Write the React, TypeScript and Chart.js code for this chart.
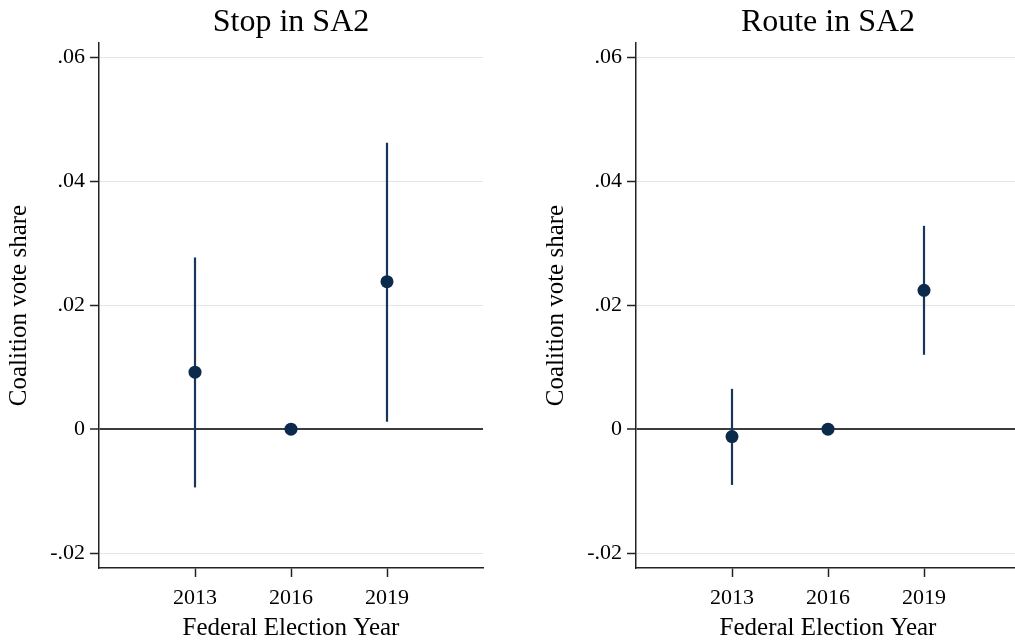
import React, { useEffect, useRef } from 'react';
import { Chart, registerables } from 'chart.js';

Chart.register(...registerables);

// ---- data ----
const years = [2013, 2016, 2019];
const stopEstimate = [0.0092, 0, 0.0238];
const stopLower = [-0.0094, 0, 0.0012];
const stopUpper = [0.0277, 0, 0.0462];
const routeEstimate = [-0.0012, 0, 0.0224];
const routeLower = [-0.009, 0, 0.012];
const routeUpper = [0.0065, 0, 0.0328];

const yTickValues = [-0.02, 0, 0.02, 0.04, 0.06];
const yTickLabels = ['-.02', '0', '.02', '.04', '.06'];
const xTickValues = [2013, 2016, 2019];
const xTickLabels = ['2013', '2016', '2019'];
const panelTitles = ['Stop in SA2', 'Route in SA2'];
const xAxisTitle = 'Federal Election Year';
const yAxisTitle = 'Coalition vote share';

const FONT = '"Liberation Serif", "Times New Roman", serif';
const NAVY = '#0b2a4c';
const NAVY_LINE = '#17365a';

const panelTitlePlugin = {
  id: 'panelTitle',
  afterDraw(chart: any, _args: any, opts: any) {
    const { ctx, chartArea } = chart;
    ctx.save();
    ctx.font = `32px ${FONT}`;
    ctx.fillStyle = '#000';
    ctx.textAlign = 'center';
    ctx.textBaseline = 'alphabetic';
    ctx.fillText(opts.text, (chartArea.left + chartArea.right) / 2, 31);
    ctx.restore();
  },
};

function Panel(props: {
  title: string;
  estimate: number[];
  lower: number[];
  upper: number[];
  left: number;
}) {
  const ref = useRef<HTMLCanvasElement | null>(null);
  useEffect(() => {
    if (!ref.current) return;
    const ciSets = years
      .map((yr, i) => ({ yr, lo: props.lower[i], hi: props.upper[i] }))
      .filter((d) => d.lo !== d.hi)
      .map((d) => ({
        type: 'line' as const,
        data: [
          { x: d.yr, y: d.lo },
          { x: d.yr, y: d.hi },
        ],
        borderColor: NAVY_LINE,
        borderWidth: 2.2,
        pointRadius: 0,
        showLine: true,
        fill: false,
        order: 2,
      }));
    const chart = new Chart(ref.current, {
      type: 'scatter',
      data: {
        datasets: [
          ...ciSets,
          {
            type: 'scatter',
            data: years.map((yr, i) => ({ x: yr, y: props.estimate[i] })),
            backgroundColor: NAVY,
            borderColor: NAVY,
            borderWidth: 0,
            pointRadius: 6.5,
            order: 1,
          } as any,
        ],
      },
      options: {
        animation: false,
        responsive: false,
        maintainAspectRatio: false,
        devicePixelRatio: 1,
        events: [],
        layout: { padding: { top: 43, right: 22, left: 0, bottom: 0 } },
        plugins: {
          legend: { display: false },
          tooltip: { enabled: false },
          panelTitle: { text: props.title },
        } as any,
        scales: {
          x: {
            type: 'linear',
            min: 2010,
            max: 2022,
            afterBuildTicks: (s: any) => {
              s.ticks = xTickValues.map((v) => ({ value: v }));
            },
            afterFit: (s: any) => {
              s.height = 76;
            },
            ticks: {
              autoSkip: false,
              callback: (_v: any, i: number) => xTickLabels[i],
              font: { family: FONT, size: 22 },
              color: '#000',
              padding: 8,
              maxRotation: 0,
            },
            grid: {
              drawOnChartArea: false,
              tickColor: '#222',
              tickLength: 9,
              tickWidth: 1.5,
            },
            border: { color: '#222', width: 1.5 },
            title: {
              display: true,
              text: xAxisTitle,
              font: { family: FONT, size: 25 },
              color: '#000',
              padding: { top: 0, bottom: 1 },
            },
          },
          y: {
            min: -0.0224,
            max: 0.0623,
            afterBuildTicks: (s: any) => {
              s.ticks = yTickValues.map((v) => ({ value: v }));
            },
            afterFit: (s: any) => {
              s.width = 99;
            },
            ticks: {
              autoSkip: false,
              callback: (_v: any, i: number) => yTickLabels[i],
              font: { family: FONT, size: 22 },
              color: '#000',
              padding: 5,
            },
            grid: {
              drawOnChartArea: true,
              color: (c: any) => (c.tick && c.tick.value === 0 ? '#3c3c3c' : '#e4e4e4'),
              lineWidth: (c: any) => (c.tick && c.tick.value === 0 ? 2 : 1),
              tickColor: '#222',
              tickLength: 9,
              tickWidth: 1.5,
            },
            border: { color: '#222', width: 1.5 },
            title: {
              display: true,
              text: yAxisTitle,
              font: { family: FONT, size: 25 },
              color: '#000',
              padding: { top: 4, bottom: 0 },
            },
          },
        },
      },
      plugins: [panelTitlePlugin as any],
    });
    return () => chart.destroy();
  }, []);
  return (
    <div style={{ position: 'absolute', left: props.left, top: 0, width: 505, height: 644 }}>
      <canvas ref={ref} width={505} height={644} style={{ width: 505, height: 644, display: 'block' }} />
    </div>
  );
}

export default function App() {
  return (
    <div
      style={{
        position: 'fixed',
        left: 0,
        top: 0,
        width: 1015,
        height: 644,
        overflow: 'hidden',
        background: '#fff',
      }}
    >
      <Panel title={panelTitles[0]} estimate={stopEstimate} lower={stopLower} upper={stopUpper} left={0} />
      <Panel title={panelTitles[1]} estimate={routeEstimate} lower={routeLower} upper={routeUpper} left={537} />
    </div>
  );
}
